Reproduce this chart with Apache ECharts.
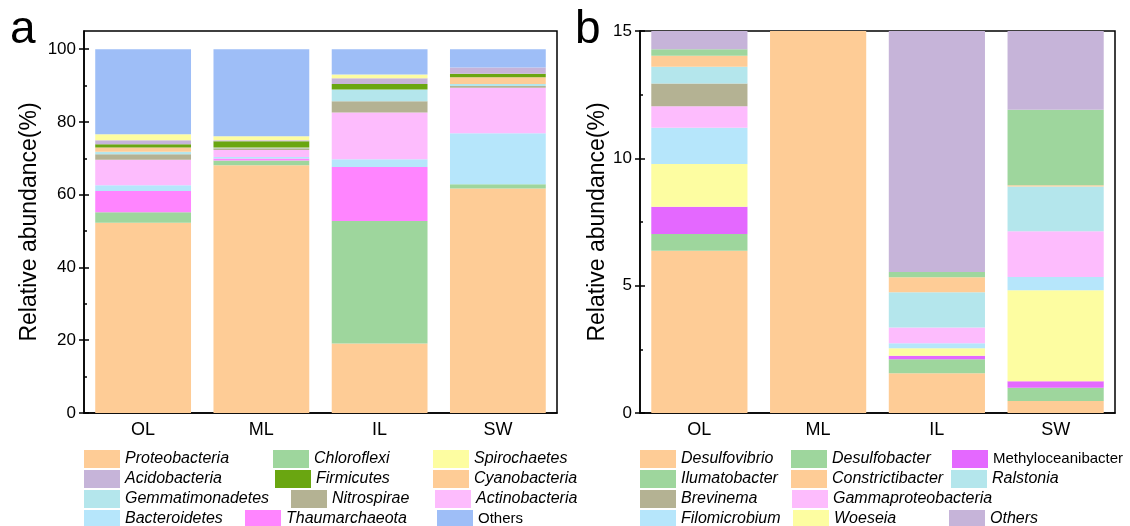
<!DOCTYPE html>
<html>
<head>
<meta charset="utf-8">
<script src="https://cdn.jsdelivr.net/npm/echarts@6/dist/echarts.min.js"></script>
<style>html,body{margin:0;padding:0;background:#fff}#c{width:1130px;height:526px}</style>
</head>
<body>
<div id="c"></div>
<script>
// ---------- data ----------
const categories = ['OL', 'ML', 'IL', 'SW'];

// panel a (phylum level, %), stacked bottom -> top
const proteobacteria   = [52.3, 68.1, 19.1, 61.7];
const chloroflexi      = [2.9, 1.3, 33.7, 1.2];
const thaumarchaeota   = [5.8, 0.55, 14.8, 0];
const bacteroidetes    = [1.6, 0.45, 2.15, 14.0];
const actinobacteria   = [7.0, 1.9, 12.85, 12.5];
const nitrospirae      = [1.5, 0.5, 3.1, 0.5];
const gemmatimonadetes = [0.7, 0.1, 3.2, 0.5];
const cyanobacteria    = [1.2, 0.1, 0, 1.9];
const firmicutes       = [0.85, 1.7, 1.5, 0.95];
const acidobacteria    = [1.15, 0.3, 1.6, 1.75];
const spirochaetes     = [1.6, 1.1, 1.05, 0];
const othersA          = [23.4, 23.9, 6.95, 5.0];

// panel b (genus level, %), stacked bottom -> top
const desulfovibrio       = [6.37, 15, 1.56, 0.47];
const desulfobacter       = [0.66, 0, 0.55, 0.52];
const methyloceanibacter  = [1.07, 0, 0.14, 0.26];
const woeseia             = [1.68, 0, 0.29, 3.57];
const filomicrobium       = [1.42, 0, 0.2, 0.52];
const gammaproteobacteria = [0.85, 0, 0.62, 1.8];
const brevinema           = [0.89, 0, 0, 0];
const ralstonia           = [0.66, 0, 1.38, 1.75];
const constrictibacter    = [0.43, 0, 0.59, 0.05];
const ilumatobacter       = [0.25, 0, 0.21, 2.97];
const othersB             = [0.72, 0, 9.46, 3.09];

// tick values
const ticksAMajor = [0, 20, 40, 60, 80, 100];
const ticksAMinor = [10, 30, 50, 70, 90];
const ticksBMajor = [0, 5, 10, 15];
const ticksBMinor = [2.5, 7.5, 12.5];

// ---------- styles ----------
const FONT = '"Liberation Sans", Arial, Helvetica, sans-serif';
const C = {
  orange: '#FECC96', green: '#9ED69D', yellow: '#FDFDA1', purple: '#C6B4D9',
  darkgreen: '#6AA611', cyan: '#B4E6EC', olive: '#B4B293', pink: '#FDBCFD',
  lightblue: '#B6E6FB', magenta: '#FF85FF', blue: '#9EBEF7', violet: '#E468FF'
};

const seriesA = [
  ['Proteobacteria', proteobacteria, C.orange],
  ['Chloroflexi', chloroflexi, C.green],
  ['Thaumarchaeota', thaumarchaeota, C.magenta],
  ['Bacteroidetes', bacteroidetes, C.lightblue],
  ['Actinobacteria', actinobacteria, C.pink],
  ['Nitrospirae', nitrospirae, C.olive],
  ['Gemmatimonadetes', gemmatimonadetes, C.cyan],
  ['Cyanobacteria', cyanobacteria, C.orange],
  ['Firmicutes', firmicutes, C.darkgreen],
  ['Acidobacteria', acidobacteria, C.purple],
  ['Spirochaetes', spirochaetes, C.yellow],
  ['Others', othersA, C.blue]
];
const seriesB = [
  ['Desulfovibrio', desulfovibrio, C.orange],
  ['Desulfobacter', desulfobacter, C.green],
  ['Methyloceanibacter', methyloceanibacter, C.violet],
  ['Woeseia', woeseia, C.yellow],
  ['Filomicrobium', filomicrobium, C.lightblue],
  ['Gammaproteobacteria', gammaproteobacteria, C.pink],
  ['Brevinema', brevinema, C.olive],
  ['Ralstonia', ralstonia, C.cyan],
  ['Constrictibacter', constrictibacter, C.orange],
  ['Ilumatobacter', ilumatobacter, C.green],
  ['Others ', othersB, C.purple]
];

// legend layout: [name, left, top, italic, color]
const legendLayout = [
  ['Proteobacteria', 84, 450, true, C.orange], ['Chloroflexi', 273, 450, true, C.green], ['Spirochaetes', 433, 450, true, C.yellow],
  ['Acidobacteria', 84, 470, true, C.purple], ['Firmicutes', 275, 470, true, C.darkgreen], ['Cyanobacteria', 433, 470, true, C.orange],
  ['Gemmatimonadetes', 84, 490, true, C.cyan], ['Nitrospirae', 291, 490, true, C.olive], ['Actinobacteria', 435, 490, true, C.pink],
  ['Bacteroidetes', 84, 510, true, C.lightblue], ['Thaumarchaeota', 245, 510, true, C.magenta], ['Others', 437, 510, false, C.blue],
  ['Desulfovibrio', 640, 450, true, C.orange], ['Desulfobacter', 791, 450, true, C.green], ['Methyloceanibacter', 952, 450, false, C.violet],
  ['Ilumatobacter', 640, 470, true, C.green], ['Constrictibacter', 791, 470, true, C.orange], ['Ralstonia', 951, 470, true, C.cyan],
  ['Brevinema', 640, 490, true, C.olive], ['Gammaproteobacteria', 792, 490, true, C.pink],
  ['Filomicrobium', 640, 510, true, C.lightblue], ['Woeseia', 793, 510, true, C.yellow], ['Others ', 949, 510, true, C.purple]
];

function yAxes(gridIndex, max, majors, minors, name, nameGap) {
  const base = { type: 'value', gridIndex: gridIndex, min: 0, max: max, position: 'left', splitLine: { show: false } };
  return [
    Object.assign({}, base, {
      axisLine: { show: true, lineStyle: { color: '#000', width: 1.5 } },
      axisTick: { show: true, inside: false, length: 5, customValues: majors, lineStyle: { color: '#000', width: 1.5 } },
      axisLabel: { customValues: majors, fontSize: 17, color: '#000', margin: 8, fontFamily: FONT },
      name: name, nameLocation: 'middle', nameGap: nameGap,
      nameTextStyle: { fontSize: 23, color: '#000', fontFamily: FONT }
    }),
    Object.assign({}, base, {
      axisLine: { show: false },
      axisTick: { show: true, inside: true, length: 5, customValues: majors, lineStyle: { color: '#000', width: 1.5 } },
      axisLabel: { show: false }
    }),
    Object.assign({}, base, {
      axisLine: { show: false },
      axisTick: { show: true, inside: true, length: 3, customValues: minors, lineStyle: { color: '#000', width: 1.5 } },
      axisLabel: { show: false }
    })
  ];
}

function xAxis(gridIndex) {
  return {
    type: 'category', gridIndex: gridIndex, data: categories,
    axisLine: { lineStyle: { color: '#000', width: 1.5 } },
    axisTick: { inside: true, alignWithLabel: true, length: 5, lineStyle: { color: '#000', width: 1.5 } },
    axisLabel: { fontSize: 18, color: '#000', margin: 8, fontFamily: FONT }
  };
}

function mkSeries(list, xi, yi, stack) {
  return list.map(function (s) {
    return {
      type: 'bar', name: s[0], data: s[1], stack: stack,
      xAxisIndex: xi, yAxisIndex: yi, barCategoryGap: '19%',
      itemStyle: { color: s[2] }, clip: true
    };
  });
}

const option = {
  animation: false,
  backgroundColor: '#fff',
  textStyle: { fontFamily: FONT },
  title: [
    { text: 'a', left: 10, top: 7, padding: 0, textStyle: { fontSize: 46, fontWeight: 'normal', color: '#000', fontFamily: FONT } },
    { text: 'b', left: 575, top: 7, padding: 0, textStyle: { fontSize: 46, fontWeight: 'normal', color: '#000', fontFamily: FONT } }
  ],
  grid: [
    { left: 84, top: 31, width: 473, height: 382, show: true, borderColor: '#000', borderWidth: 1.5, backgroundColor: 'transparent' },
    { left: 640, top: 31, width: 475, height: 382, show: true, borderColor: '#000', borderWidth: 1.5, backgroundColor: 'transparent' }
  ],
  xAxis: [xAxis(0), xAxis(1)],
  yAxis: [].concat(
    yAxes(0, 105, ticksAMajor, ticksAMinor, 'Relative abundance(%)', 43),
    yAxes(1, 15, ticksBMajor, ticksBMinor, 'Relative abundance(%)', 31)
  ),
  legend: legendLayout.map(function (l) {
    return {
      data: [{ name: l[0], itemStyle: { color: l[4] } }],
      left: l[1], top: l[2], padding: 0, orient: 'horizontal',
      itemWidth: 36, itemHeight: 18, icon: 'rect', selectedMode: false,
      textStyle: { fontSize: l[3] ? 16 : 15, color: '#000', fontStyle: l[3] ? 'italic' : 'normal', fontFamily: FONT }
    };
  }),
  series: [].concat(mkSeries(seriesA, 0, 0, 'a'), mkSeries(seriesB, 1, 3, 'b'))
};

const chart = echarts.init(document.getElementById('c'), null, { renderer: 'canvas' });
chart.setOption(option);
</script>
</body>
</html>
